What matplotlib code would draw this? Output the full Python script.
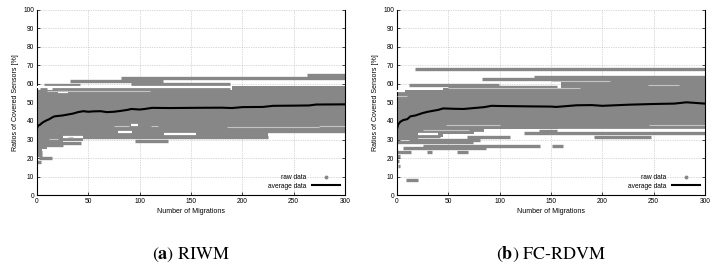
import matplotlib.pyplot as plt
from matplotlib.lines import Line2D

plt.rcParams['font.family'] = ['Liberation Sans', 'DejaVu Sans']
plt.rcParams['mathtext.fontset'] = 'stix'

GRAY = '#878787'
LIGHT = '#c4c4c4'

# (a) RIWM
riwm_avg_x = [0, 1, 3, 5, 8, 12, 15, 17, 25, 30, 35, 40, 45, 50, 55, 62, 68, 75, 82, 88, 92,
              100, 105, 112, 130, 150, 180, 190, 200, 220, 230, 250, 265, 272, 300]
riwm_avg_y = [36, 37.5, 38, 39, 40, 41, 42, 42.5, 43, 43.5, 44, 44.8, 45.3, 45.0, 45.2, 45.3,
              44.8, 45.0, 45.5, 46, 46.5, 46.2, 46.5, 47.1, 47, 47.1, 47.2, 47, 47.5, 47.6,
              48.2, 48.3, 48.4, 48.9, 49]
riwm_band_x = [0, 5, 10, 25, 45, 190, 225, 300]
riwm_band_lo = [24, 25, 27, 29, 30.5, 30.5, 35, 35]
riwm_band_hi = [55.5, 56.5, 57, 57, 57, 59, 59, 59]
riwm_strips = [(263, 300, 64.6), (82, 300, 63.4), (32, 123, 61.6), (92, 188, 60.2),
               (7, 42, 59.4), (15, 188, 57.9), (0, 5, 56.3), (3, 10, 57.3),
               (0, 4, 17.8), (2, 15, 19.8), (0, 5, 21.6), (0, 5, 23.4), (3, 43, 28.2),
               (5, 25, 26.8), (95, 128, 29.0), (45, 225, 31.5), (160, 175, 32.6),
               (95, 300, 34.8)]
riwm_gaps = [(79, 93, 34.2), (124, 155, 33.0), (92, 98, 38.0), (25, 45, 31.5),
             (0, 190, 58.6), (20, 30, 55.8)]
riwm_faint = [(10, 110, 56.2), (75, 90, 37.5), (111, 118, 37.5), (185, 275, 36.5),
              (275, 300, 37.5), (12, 20, 30.2), (30, 35, 31.3)]

# (b) FC-RDVM
fc_avg_x = [0, 1, 3, 6, 10, 13, 18, 25, 30, 35, 40, 45, 55, 65, 75, 85, 92, 100, 130, 150,
            155, 175, 190, 200, 225, 250, 270, 282, 290, 300]
fc_avg_y = [35.5, 38, 39.5, 40.5, 41, 42.5, 43, 44.3, 45, 45.5, 46, 46.8, 46.6, 46.5, 47,
            47.5, 48.2, 48.1, 47.9, 47.8, 47.6, 48.5, 48.6, 48.2, 48.8, 49.2, 49.4, 50.1,
            49.8, 49.4]
fc_band_x = [0, 20, 45, 85, 160, 300]
fc_band_lo = [30, 31.5, 33, 35.5, 35.5, 35.5]
fc_band_hi = [56.5, 56.5, 58, 58, 64.5, 64.5]
fc_strips = [(18, 300, 67.9), (133, 300, 63.6), (83, 160, 62.5), (12, 99, 59.6),
             (50, 156, 58.5), (124, 300, 33.3), (138, 156, 34.7), (19, 42, 32.0),
             (68, 110, 31.5), (192, 247, 31.2), (12, 81, 29.7), (0, 74, 28.5),
             (25, 139, 26.7), (151, 162, 26.3), (6, 87, 25.2), (0, 14, 23.0),
             (29, 34, 23.0), (58, 69, 23.0), (0, 3, 21.0), (0, 2, 18.5), (1, 3, 15.8),
             (9, 20, 8.2)]
fc_gaps = [(157, 300, 35.1), (0, 8, 56.0), (20, 40, 32.8), (75, 90, 33.5)]
fc_faint = [(50, 178, 57.8), (150, 208, 61.6), (245, 275, 59.5), (246, 300, 37.8),
            (48, 100, 37.8), (0, 10, 53.5), (25, 70, 35.0)]

panels = [
    ('a', 'RIWM', riwm_avg_x, riwm_avg_y, riwm_band_x, riwm_band_lo, riwm_band_hi,
     riwm_strips, riwm_gaps, riwm_faint),
    ('b', 'FC-RDVM', fc_avg_x, fc_avg_y, fc_band_x, fc_band_lo, fc_band_hi,
     fc_strips, fc_gaps, fc_faint),
]
lefts = [0.0517, 0.5545]

fig = plt.figure(figsize=(7.16, 2.73), dpi=100)

for left, (tag, name, ax_, ay_, bx, blo, bhi, strips, gaps, faint) in zip(lefts, panels):
    ax = fig.add_axes([left, 0.2857, 0.4300, 0.6777])

    ax.fill_between(bx, blo, bhi, step='post', color=GRAY, lw=0, zorder=2)
    ax.hlines([s[2] for s in strips], [s[0] for s in strips], [s[1] for s in strips],
              colors=GRAY, linewidth=2.4, zorder=2)
    ax.hlines([s[2] for s in gaps], [s[0] for s in gaps], [s[1] for s in gaps],
              colors='white', linewidth=1.6, zorder=3)
    ax.hlines([s[2] for s in faint], [s[0] for s in faint], [s[1] for s in faint],
              colors=LIGHT, linewidth=0.8, zorder=3)
    ax.plot(ax_, ay_, color='black', lw=1.5, zorder=4)

    ax.set_xlim(0, 300)
    ax.set_ylim(0, 100)
    ax.set_xticks(range(0, 301, 50))
    ax.set_yticks(range(0, 101, 10))
    ax.grid(True, color='#b5b5b5', linestyle=(0, (1, 1.5)), linewidth=0.5, zorder=1)
    ax.set_axisbelow(True)
    ax.spines['top'].set_visible(False)
    for sp in ['left', 'right', 'bottom']:
        ax.spines[sp].set_linewidth(0.8)
    ax.tick_params(direction='in', length=2.5, width=0.5, labelsize=4.8, pad=2,
                   right=True)
    ax.set_xlabel('Number of Migrations', fontsize=5, labelpad=2)
    ax.set_ylabel('Ratios of Covered Sensors [%]', fontsize=5, labelpad=3)

    handles = [Line2D([], [], color=GRAY, marker='o', ms=1.8, ls='none'),
               Line2D([], [], color='black', lw=1.5)]
    ax.legend(handles, ['raw data', 'average data'], loc='lower right', frameon=False,
              markerfirst=False, fontsize=4.8, handlelength=4.2, handletextpad=0.8,
              borderaxespad=0.4, labelspacing=0.2)

    fig.text(left + 0.215, 0.068, '($\\mathbf{%s}$) %s' % (tag, name), ha='center',
             va='center', fontsize=13, family='STIXGeneral')

fig.savefig('out.png', dpi=100)
